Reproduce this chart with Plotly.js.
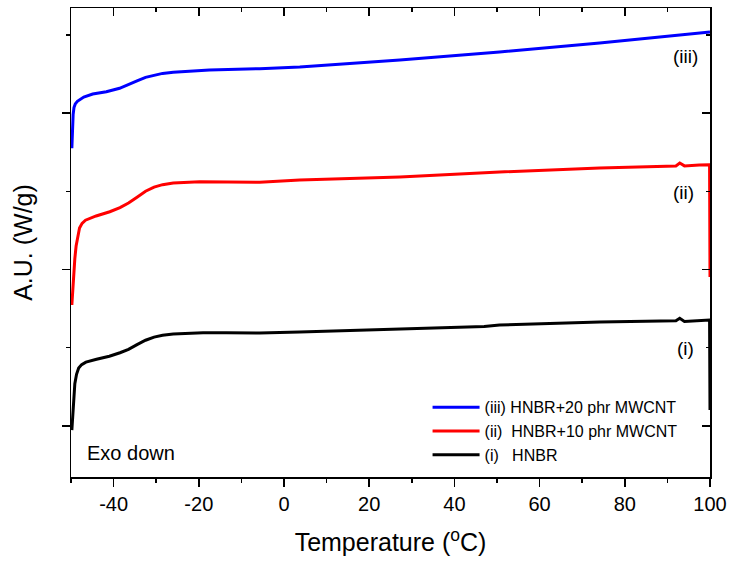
<!DOCTYPE html>
<html>
<head>
<meta charset="utf-8">
<script src="https://cdn.plot.ly/plotly-3.0.1.min.js"></script>
<style>html,body{margin:0;padding:0;background:#fff;}#chart{width:732px;height:565px;}</style>
</head>
<body>
<div id="chart"></div>
<script>
// Temperature (°C) and heat flow (arbitrary units, vertically offset curves)
const tempI   = [-49.8, -49.6, -49.4, -49.1, -48.7, -48.2, -47.5, -46.5, -44.0, -41.0, -38.5, -36.5, -34.5, -32.5, -30.5, -28.5, -26.0, -23.0, -19.0, -13.5, -5.7, 3.7, 27.2, 47.0, 50.6, 74.1, 92.0, 92.9, 94.0, 97.5, 99.9, 100.0];
const flowI   = [-0.026, 0.08, 0.18, 0.27, 0.33, 0.37, 0.392, 0.408, 0.426, 0.446, 0.468, 0.490, 0.520, 0.548, 0.568, 0.580, 0.587, 0.592, 0.595, 0.596, 0.594, 0.601, 0.620, 0.635, 0.645, 0.665, 0.672, 0.688, 0.668, 0.671, 0.677, 0.102];

const tempII  = [-49.8, -49.6, -49.4, -49.1, -48.8, -48.4, -48.0, -47.4, -46.6, -44.1, -40.9, -38.5, -36.5, -34.5, -32.5, -30.5, -28.5, -26.0, -23.0, -19.8, -5.7, 3.7, 27.2, 50.6, 74.1, 92.0, 92.9, 94.0, 97.5, 99.9, 100.0];
const flowII  = [0.773, 0.87, 0.96, 1.07, 1.15, 1.22, 1.265, 1.295, 1.315, 1.342, 1.369, 1.395, 1.425, 1.462, 1.500, 1.526, 1.542, 1.552, 1.558, 1.561, 1.557, 1.572, 1.591, 1.623, 1.649, 1.662, 1.680, 1.662, 1.668, 1.670, 0.952];

const tempIII = [-49.8, -49.65, -49.5, -49.3, -49.0, -48.5, -47.8, -47.0, -44.9, -41.7, -38.6, -36.5, -34.5, -32.5, -30.5, -28.5, -26.0, -22.9, -17.5, -5.7, 3.7, 27.2, 50.6, 74.1, 97.5, 100.0];
const flowIII = [1.775, 1.90, 1.99, 2.035, 2.058, 2.075, 2.090, 2.102, 2.121, 2.136, 2.158, 2.180, 2.206, 2.228, 2.243, 2.253, 2.260, 2.266, 2.275, 2.283, 2.294, 2.339, 2.390, 2.447, 2.511, 2.518];

const NB = '\u00a0';
const seriesNames  = ['(iii) HNBR+20 phr MWCNT', '(ii)' + NB + NB + 'HNBR+10 phr MWCNT', '(i)' + NB + NB + NB + 'HNBR'];
const seriesColors = ['#0000ff', '#ff0000', '#000000'];
const curveLabels  = ['(iii)', '(ii)', '(i)'];
const labelX = [94.3, 93.8, 94.3];
const labelY = [2.358, 1.489, 0.498];
const xTickVals = [-40, -20, 0, 20, 40, 60, 80, 100];

const FONT = '"Liberation Sans", Arial, sans-serif';
const xs = [tempIII, tempII, tempI];
const ys = [flowIII, flowII, flowI];

const traces = xs.map((x, i) => ({
  x: x, y: ys[i], type: 'scatter', mode: 'lines',
  name: seriesNames[i], legendgroup: 'g' + i,
  line: {color: seriesColors[i], width: 3},
  hoverinfo: 'skip'
}));
traces.push({x: [null], y: [null], xaxis: 'x2', yaxis: 'y2', showlegend: false, hoverinfo: 'skip', mode: 'lines'});

const XR = [-50, 100];
const YR = [-0.326, 2.671];

const layout = {
  width: 732, height: 565,
  margin: {l: 71, r: 22, t: 8, b: 88},
  paper_bgcolor: '#fff', plot_bgcolor: '#fff',
  font: {family: FONT, color: '#000'},
  showlegend: true,
  legend: {
    x: 0.558, y: 0.185, xanchor: 'left', yanchor: 'top',
    bgcolor: 'rgba(0,0,0,0)', font: {size: 16, family: FONT, color: '#000'},
    tracegroupgap: 6, traceorder: 'normal', itemwidth: 47
  },
  xaxis: {
    range: XR, tickvals: xTickVals, ticktext: xTickVals.map(String),
    ticks: 'outside', ticklen: 8, tickwidth: 1.5, tickcolor: '#000',
    minor: {dtick: 10, tick0: 0, ticks: 'outside', ticklen: 4, tickwidth: 1.5, tickcolor: '#000'},
    showline: true, linewidth: 1.5, linecolor: '#000', showgrid: false, zeroline: false,
    tickfont: {size: 20, family: FONT, color: '#000'},
    title: {text: 'Temperature (<sup>o</sup>C)', font: {size: 25, family: FONT, color: '#000'}, standoff: 20}
  },
  yaxis: {
    range: YR, dtick: 1, tick0: 0, showticklabels: false,
    ticks: 'outside', ticklen: 8, tickwidth: 1.5, tickcolor: '#000',
    minor: {dtick: 0.5, tick0: 0, ticks: 'outside', ticklen: 4, tickwidth: 1.5, tickcolor: '#000'},
    showline: true, linewidth: 1.5, linecolor: '#000', showgrid: false, zeroline: false,
    title: {text: 'A.U. (W/g)', font: {size: 25, family: FONT, color: '#000'}, standoff: 22}
  },
  xaxis2: {
    range: XR, overlaying: 'x', side: 'top', anchor: 'y2', tickvals: xTickVals, showticklabels: false,
    ticks: 'inside', ticklen: 8, tickwidth: 1.5, tickcolor: '#000',
    minor: {dtick: 10, tick0: 0, ticks: 'inside', ticklen: 4, tickwidth: 1.5, tickcolor: '#000'},
    showline: true, linewidth: 1.5, linecolor: '#000', showgrid: false, zeroline: false
  },
  yaxis2: {
    range: YR, overlaying: 'y', side: 'right', anchor: 'x2', dtick: 1, tick0: 0, showticklabels: false,
    ticks: 'inside', ticklen: 8, tickwidth: 1.5, tickcolor: '#000',
    minor: {dtick: 0.5, tick0: 0, ticks: 'inside', ticklen: 4, tickwidth: 1.5, tickcolor: '#000'},
    showline: true, linewidth: 1.5, linecolor: '#000', showgrid: false, zeroline: false
  },
  annotations: curveLabels.map((t, i) => ({
    x: labelX[i], y: labelY[i], xref: 'x', yref: 'y', text: t, showarrow: false,
    font: {size: 19, family: FONT, color: '#000'}, xanchor: 'center', yanchor: 'middle'
  })).concat([{
    x: -46.8, y: -0.173, xref: 'x', yref: 'y', text: 'Exo down', showarrow: false,
    font: {size: 20, family: FONT, color: '#000'}, xanchor: 'left', yanchor: 'middle'
  }])
};

Plotly.newPlot('chart', traces, layout, {displayModeBar: false, staticPlot: true});
</script>
</body>
</html>
